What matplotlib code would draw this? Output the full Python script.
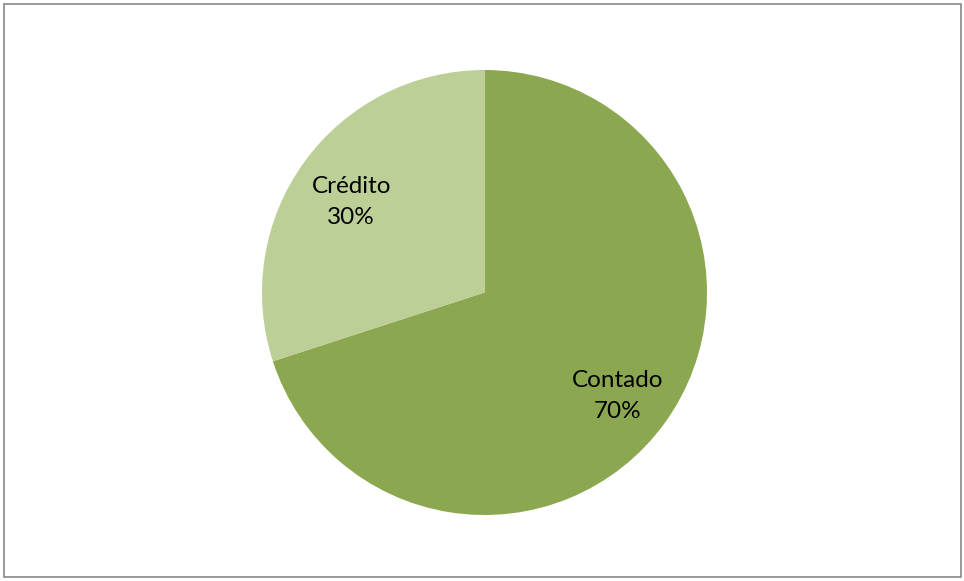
import matplotlib.pyplot as plt
from matplotlib.patches import Rectangle
from matplotlib.transforms import offset_copy

# payment method split
categories = ["Contado", "Crédito"]
shares = [70, 30]
colors = ["#8BA74F", "#BBCF97"]

plt.rcParams['font.family'] = ['Lato', 'DejaVu Sans']

fig = plt.figure(figsize=(9.64, 5.81), dpi=100)
ax = fig.add_axes([262 / 964, 66 / 581, 445 / 964, 445 / 581])

labels = [f"{c}\n{v}%" for c, v in zip(categories, shares)]
wedges, texts = ax.pie(shares, labels=labels, colors=colors, startangle=90,
                       counterclock=False, labeldistance=0.74,
                       wedgeprops=dict(linewidth=0),
                       textprops=dict(fontsize=17.5, color="black"))
# center the two-line labels and nudge them down a little
for t in texts:
    t.set_ha("center")
    t.set_va("center")
    t.set_linespacing(1.6)
    t.set_transform(offset_copy(ax.transData, fig=fig, x=0, y=-4.8, units="points"))
ax.set_xlim(-1, 1)
ax.set_ylim(-1, 1)
ax.set_aspect("equal")

# chart area frame
fig.patches.append(Rectangle((4 / 964, 4 / 581), 957 / 964, 573 / 581,
                             transform=fig.transFigure, fill=False,
                             edgecolor="#888888", linewidth=1.2))

fig.savefig("out.png", dpi=100)
